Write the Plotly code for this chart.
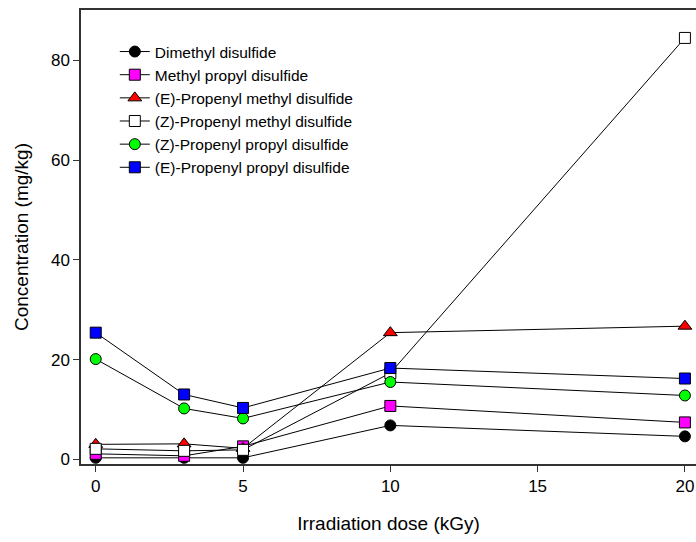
import plotly.graph_objects as go

dose = [0, 3, 5, 10, 20]
names = ["Dimethyl disulfide", "Methyl propyl disulfide", "(E)-Propenyl methyl disulfide",
         "(Z)-Propenyl methyl disulfide", "(Z)-Propenyl propyl disulfide", "(E)-Propenyl propyl disulfide"]
dimethyl = [0.3, 0.3, 0.3, 6.8, 4.6]
methyl_propyl = [1.1, 0.7, 2.6, 10.7, 7.4]
e_propenyl_methyl = [3.0, 3.1, 2.2, 25.4, 26.7]
z_propenyl_methyl = [2.1, 1.7, 1.9, 17.3, 84.5]
z_propenyl_propyl = [20.1, 10.2, 8.2, 15.5, 12.8]
e_propenyl_propyl = [25.4, 13.0, 10.3, 18.3, 16.2]

series = [dimethyl, methyl_propyl, e_propenyl_methyl, z_propenyl_methyl, z_propenyl_propyl, e_propenyl_propyl]
symbols = ["circle", "square", "triangle-up", "square", "circle", "square"]
colors = ["#000000", "#ff00ff", "#ff0000", "#ffffff", "#00ff00", "#0000ff"]

fig = go.Figure()
for n, s, sym, c in zip(names, series, symbols, colors):
    fig.add_trace(go.Scatter(
        x=dose, y=s, name=n, mode="lines+markers",
        line=dict(color="#000000", width=1),
        marker=dict(symbol=sym, size=11 if sym != "triangle-up" else 12, color=c,
                    line=dict(color="#000000", width=1)),
        cliponaxis=False,
    ))

fig.update_layout(
    width=696, height=542,
    margin=dict(l=81, r=0, t=10, b=78),
    paper_bgcolor="white", plot_bgcolor="white",
    font=dict(family="Liberation Sans, Arial, sans-serif", size=15, color="#000000"),
    showlegend=True,
    legend=dict(x=0.055, y=0.945, xanchor="left", yanchor="top",
                bgcolor="rgba(0,0,0,0)", borderwidth=0,
                font=dict(size=15.5), tracegroupgap=0),
    xaxis=dict(range=[-0.5, 20.376], tickvals=[0, 5, 10, 15, 20],
               showgrid=False, zeroline=False, showline=True, linecolor="#333333", linewidth=1.5,
               mirror=True, ticks="outside", ticklen=6, tickcolor="#333333",
               tickfont=dict(size=17),
               title=dict(text="Irradiation dose (kGy)", font=dict(size=19), standoff=22)),
    yaxis=dict(range=[-0.94, 90.1], tickvals=[0, 20, 40, 60, 80],
               showgrid=False, zeroline=False, showline=True, linecolor="#333333", linewidth=1.5,
               mirror=False, ticks="outside", ticklen=6, tickcolor="#333333",
               tickfont=dict(size=17),
               title=dict(text="Concentration (mg/kg)", font=dict(size=19), standoff=17)),
)

fig.write_html("out.html")
